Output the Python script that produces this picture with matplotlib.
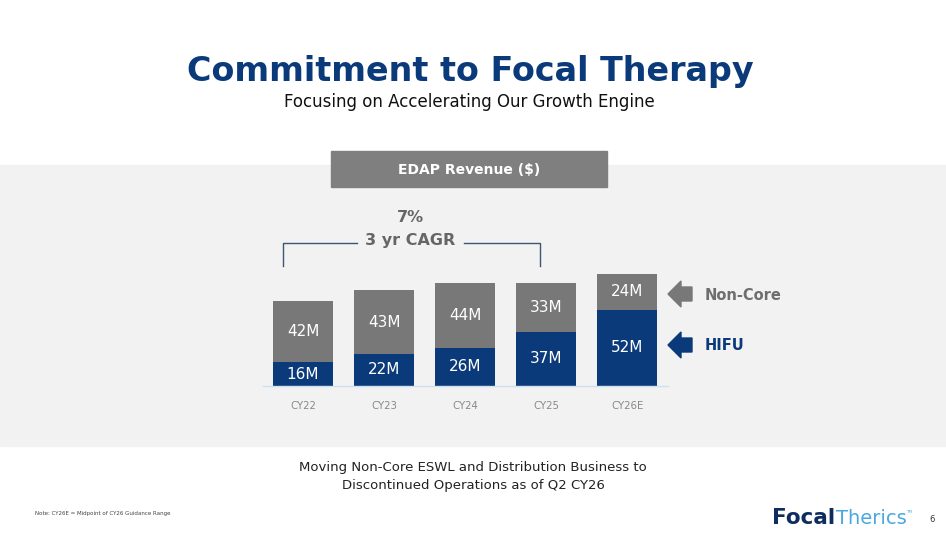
import matplotlib.pyplot as plt
from matplotlib.patches import Rectangle, Polygon

# EDAP revenue by segment, $M
years = ["CY22", "CY23", "CY24", "CY25", "CY26E"]
hifu = [16, 22, 26, 37, 52]
non_core = [42, 43, 44, 33, 24]

navy = "#0b3a7a"
grey = "#787878"
band = "#f2f2f2"

W, H = 946, 535
fig = plt.figure(figsize=(W / 100, H / 100), dpi=100)
fig.patch.set_facecolor("white")

# page layer in pixel coordinates (y down)
page = fig.add_axes([0, 0, 1, 1])
page.set_xlim(0, W)
page.set_ylim(H, 0)
page.axis("off")

page.add_patch(Rectangle((0, 165), W, 281, color=band, zorder=0))
page.add_patch(Rectangle((331, 151), 276, 36, color="#7f7f7f", zorder=1))
page.text(469, 170, "EDAP Revenue ($)", color="white", fontsize=10, fontweight="bold",
          ha="center", va="center")

page.text(470, 72, "Commitment to Focal Therapy", color=navy, fontsize=24,
          fontweight="bold", ha="center", va="center")
page.text(469, 102, "Focusing on Accelerating Our Growth Engine", color="#111111",
          fontsize=12, ha="center", va="center")

# CAGR bracket
bc = "#3d5573"
page.plot([283, 283, 357], [266, 243, 243], color=bc, lw=1)
page.plot([464, 540, 540], [243, 243, 266], color=bc, lw=1)
page.text(410, 218, "7%", color="#666666", fontsize=11.5, fontweight="bold",
          ha="center", va="center")
page.text(410, 241, "3 yr CAGR", color="#666666", fontsize=11.5, fontweight="bold",
          ha="center", va="center")

# legend arrows
page.add_patch(Polygon([(668, 294), (681, 281), (681, 287), (692, 287), (692, 301),
                        (681, 301), (681, 307)], closed=True, color=grey))
page.add_patch(Polygon([(668, 345), (681, 332), (681, 338), (692, 338), (692, 352),
                        (681, 352), (681, 358)], closed=True, color=navy))
page.text(705, 295, "Non-Core", color="#6e6e6e", fontsize=10.5, fontweight="bold",
          va="center")
page.text(705, 346, "HIFU", color=navy, fontsize=10.5, fontweight="bold", va="center")

page.text(473, 468, "Moving Non-Core ESWL and Distribution Business to", color="#222222",
          fontsize=9.5, ha="center", va="center")
page.text(473, 485, "Discontinued Operations as of Q2 CY26", color="#222222",
          fontsize=9.5, ha="center", va="center")
page.text(35, 514, "Note: CY26E = Midpoint of CY26 Guidance Range", color="#444444",
          fontsize=4, va="center")

# logo
page.text(772, 524, "Focal", color="#0e2d5e", fontsize=15.5, fontweight="bold",
          va="baseline")
page.text(836, 524, "Therics", color="#4aa8e0", fontsize=14, va="baseline")
page.text(906, 512, "TM", color="#4aa8e0", fontsize=3, va="center")
page.text(932, 519, "6", color="#333333", fontsize=6, ha="center", va="center")

# stacked bars
ax = fig.add_axes([262.5 / W, (H - 386) / H, 405.5 / W, 147 / H])
ax.patch.set_alpha(0)
x = range(len(years))
ax.bar(x, hifu, width=0.74, color=navy, zorder=2)
ax.bar(x, non_core, width=0.74, bottom=hifu, color=grey, zorder=2)
for i in x:
    ax.text(i, hifu[i] / 2, f"{hifu[i]}M", color="white", fontsize=11,
            ha="center", va="center", zorder=3)
    ax.text(i, hifu[i] + non_core[i] / 2, f"{non_core[i]}M", color="white",
            fontsize=11, ha="center", va="center", zorder=3)
ax.set_xlim(-0.5, 4.5)
ax.set_ylim(0, 100)
ax.set_xticks(list(x))
ax.set_xticklabels(years, color="#888888", fontsize=7.3)
ax.tick_params(length=0, pad=11)
ax.set_yticks([])
for s in ["top", "right", "left"]:
    ax.spines[s].set_visible(False)
ax.spines["bottom"].set_color("#cfe0f0")
ax.spines["bottom"].set_linewidth(1)

fig.savefig("out.png", dpi=100)
